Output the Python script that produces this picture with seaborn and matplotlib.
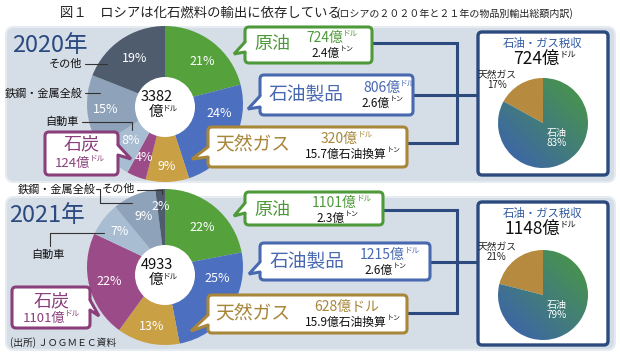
import numpy as np
import matplotlib
matplotlib.use('Agg')
import matplotlib.pyplot as plt
from matplotlib.patches import FancyBboxPatch, Circle, Polygon
from matplotlib.colors import LinearSegmentedColormap
import seaborn as sns

# ---------------- data ----------------
categories = ['原油', '石油製品', '天然ガス', '石炭', '自動車', '鉄鋼・金属全般', 'その他']
share_2020 = [21, 24, 9, 4, 8, 15, 19]
share_2021 = [22, 25, 13, 22, 7, 9, 2]
totals = [3382, 4933]
years = ['2020年', '2021年']
crude_usd = [724, 1101]
crude_ton = ['2.4', '2.3']
products_usd = [806, 1215]
products_ton = ['2.6', '2.6']
gas_usd = [320, 628]
gas_toe = ['15.7', '15.9']
coal_usd = [124, 1101]
tax_labels = ['石油', '天然ガス']
tax_2020 = [83, 17]
tax_2021 = [79, 21]
tax_totals = [724, 1148]

# ---------------- style ----------------
sns.set_style('white')
plt.rcParams['font.family'] = ['Noto Sans CJK JP', 'DejaVu Sans']

pal = sns.color_palette(['#55a23c', '#4c6fbf', '#c9a043', '#9a4b88',
                         '#a9bdd2', '#8ea2b9', '#4f5c6d'])
GREEN, BLUE, GOLD, PURPLE = '#4e9a3a', '#4868b0', '#a8863a', '#8a3f7b'
NAVY = '#2c4a7d'
PANEL = '#d5dde7'
# where along each wedge (fraction of its sweep) the percent label sits
label_sweep = [[0.55, 0.28, 0.5, 0.5, 0.5, 0.5, 0.5],
               [0.55, 0.26, 0.5, 0.5, 0.5, 0.5, 0.5]]
label_radius = [[0.72, 0.70, 0.80, 0.74, 0.64, 0.76, 0.70],
                [0.70, 0.68, 0.78, 0.74, 0.74, 0.70, 0.78]]

fig = plt.figure(figsize=(6.2, 3.57), dpi=100)
ax = fig.add_axes([0, 0, 1, 1])


def sup(x, y, main, small, size, color, ssize=5.5, dy=4):
    ax.text(x, y, main, ha='right', va='center', fontsize=size, color=color, zorder=10)
    ax.text(x, y - dy, small, ha='left', va='center', fontsize=ssize, color=color, zorder=10)


def callout(x0, y0, w, h, ec, b1, tip, b2):
    ax.add_patch(FancyBboxPatch((x0, y0), w, h, boxstyle='round,pad=0,rounding_size=4',
                                fc='white', ec=ec, lw=2.2, zorder=6))
    inside = 3 if b1[0] <= x0 + 1 else -3
    ax.add_patch(Polygon([(b1[0] + inside, b1[1]), b1, tip, b2, (b2[0] + inside, b2[1])],
                         closed=True, fc='white', ec='none', zorder=7))
    ax.plot([b1[0], tip[0], b2[0]], [b1[1], tip[1], b2[1]], color=ec, lw=2.2,
            solid_joinstyle='miter', zorder=7)


# title
ax.text(60, 13, '図１　ロシアは化石燃料の輸出に依存している', fontsize=9.6,
        ha='left', va='center', color='#222222')
ax.text(336, 14, '(ロシアの２０２０年と２１年の物品別輸出総額内訳)', fontsize=7.2,
        ha='left', va='center', color='#222222')

layouts = [
    dict(panel=(6, 27, 609, 155), center=(165, 104), hole=(165, 107), year_xy=(50, 45),
         crude=(245, 27, 127, 36, (245, 42), (234, 54), (245, 52)),
         prod=(260, 75, 153, 40, (260, 96), (248, 109), (260, 107)),
         gas=(208, 127, 199, 40, (208, 147), (192, 159), (208, 157)),
         coal=(45, 132, 73, 43, (118, 145), (131, 159), (118, 155)),
         lines_y=(43, 95, 143), right=(478, 32, 130, 143), tax_center=(543, 123)),
    dict(panel=(6, 197, 609, 153), center=(165, 267), hole=(165, 275), year_xy=(47, 215),
         crude=(245, 192, 138, 33, (245, 203), (234, 216), (245, 213)),
         prod=(260, 243, 170, 37, (260, 262), (249, 274), (260, 272)),
         gas=(208, 295, 199, 38, (208, 315), (191, 331), (208, 325)),
         coal=(12, 287, 78, 41, (90, 300), (99, 316), (90, 310)),
         lines_y=(210, 262, 313), right=(478, 202, 130, 143), tax_center=(543, 295)),
]
shares = [share_2020, share_2021]
taxes = [tax_2020, tax_2021]
R = 78

for i, L in enumerate(layouts):
    px, py, pw, ph = L['panel']
    ax.add_patch(FancyBboxPatch((px, py), pw, ph, boxstyle='round,pad=0,rounding_size=8',
                                fc=PANEL, ec='#e6ebf1', lw=1.5, zorder=1))
    ax.text(*L['year_xy'], years[i], fontsize=17, color='#2b4a80', ha='center',
            va='center', zorder=5)

    cx, cy = L['center']
    wedges, _ = ax.pie(shares[i], colors=pal, startangle=-90, counterclock=True,
                       center=(cx, cy), radius=R, wedgeprops=dict(lw=0), frame=True)
    for j, w in enumerate(wedges):
        w.set_zorder(3)
        ang = np.deg2rad(w.theta1 + label_sweep[i][j] * (w.theta2 - w.theta1))
        rr = label_radius[i][j] * R
        ax.text(cx + rr * np.cos(ang), cy + rr * np.sin(ang), f'{shares[i][j]}%',
                color='white', fontsize=9, ha='center', va='center', zorder=4)
    hx, hy = L['hole']
    ax.add_patch(Circle((hx, hy), 30, fc='white', ec='none', zorder=4))
    ax.text(hx - 8, hy - 10, f'{totals[i]}', fontsize=10.5, ha='center', va='center',
            color='#111111', zorder=5)
    sup(hx - 2, hy + 5, '億', 'ドル', 10.5, '#111111', ssize=5.5, dy=3)

    # connector lines
    ya, yb, yc = L['lines_y']
    rx = L['right'][0]
    c_end = L['crude'][0] + L['crude'][2]
    p_end = L['prod'][0] + L['prod'][2]
    g_end = L['gas'][0] + L['gas'][2]
    ax.plot([c_end, 457, 457, g_end], [ya, ya, yc, yc], color=NAVY, lw=2.2, zorder=2,
            solid_joinstyle='miter')
    ax.plot([p_end, rx], [yb, yb], color=NAVY, lw=2.2, zorder=2)

    # callouts
    callout(*L['crude'][:4], GREEN, *L['crude'][4:])
    callout(*L['prod'][:4], BLUE, *L['prod'][4:])
    callout(*L['gas'][:4], GOLD, *L['gas'][4:])
    callout(*L['coal'][:4], PURPLE, *L['coal'][4:])

    # right tax box
    rx, ry, rw, rh = L['right']
    ax.add_patch(FancyBboxPatch((rx, ry), rw, rh, boxstyle='round,pad=0,rounding_size=4',
                                fc='white', ec=NAVY, lw=2.4, zorder=6))
    tcx, tcy = L['tax_center']
    tw, _ = ax.pie(taxes[i], colors=['none', '#b78b3f'], startangle=-90, counterclock=True,
                   center=(tcx, tcy), radius=45, wedgeprops=dict(lw=0), frame=True)
    for w in tw:
        w.set_zorder(7)
    n = 120
    xs = np.linspace(tcx - 45, tcx + 45, n)
    ys = np.linspace(tcy - 45, tcy + 45, n)
    X, Y = np.meshgrid(xs, ys)
    T = ((X - tcx) - (Y - tcy)) / 180 + 0.5
    cmap = LinearSegmentedColormap.from_list('g', ['#3b5fb4', '#4a9a40'])
    im = ax.imshow(T, extent=(tcx - 45, tcx + 45, tcy + 45, tcy - 45), origin='upper',
                   cmap=cmap, vmin=0, vmax=1, zorder=7, interpolation='bilinear')
    im.set_clip_path(tw[0])
    ax.text(tcx, ry + 11, '石油・ガス税収', fontsize=8.2, color='#2e5aa0', ha='center',
            va='center', zorder=10)
    sup(tcx + 17, ry + 27, f'{tax_totals[i]}億', 'ドル', 12.5, '#111111', ssize=6, dy=5)
    ax.text(497, tcy - 48, tax_labels[1], fontsize=7, color='#222222', ha='center',
            va='center', zorder=10)
    ax.text(497, tcy - 38, f'{taxes[i][1]}%', fontsize=7, color='#222222', ha='center',
            va='center', zorder=10)
    ax.text(tcx + 14, tcy + 10, tax_labels[0], fontsize=7.2, color='white', ha='center',
            va='center', zorder=10)
    ax.text(tcx + 14, tcy + 20, f'{taxes[i][0]}%', fontsize=7.2, color='white', ha='center',
            va='center', zorder=10)

# ---- box texts 2020 ----
ax.text(272, 44, categories[0], fontsize=13, color=GREEN, ha='center', va='center', zorder=10)
sup(343, 38, f'{crude_usd[0]}億', 'ドル', 10, GREEN)
sup(340, 53, f'{crude_ton[0]}億', 'トン', 8.5, '#111111', ssize=5)
ax.text(306, 95, categories[1], fontsize=13.5, color=BLUE, ha='center', va='center', zorder=10)
sup(400, 88, f'{products_usd[0]}億', 'ドル', 10, BLUE)
sup(390, 103, f'{products_ton[0]}億', 'トン', 8.5, '#111111', ssize=5)
ax.text(253, 144, categories[2], fontsize=13.5, color=GOLD, ha='center', va='center', zorder=10)
sup(358, 139, f'{gas_usd[0]}億', 'ドル', 10, GOLD)
sup(387, 154, f'{gas_toe[0]}億石油換算', 'トン', 8.5, '#111111', ssize=5)
ax.text(82, 144, categories[3], fontsize=13, color=PURPLE, ha='center', va='center', zorder=10)
sup(90, 163, f'{coal_usd[0]}億', 'ドル', 9.5, PURPLE)

# ---- box texts 2021 ----
ax.text(272, 210, categories[0], fontsize=13, color=GREEN, ha='center', va='center', zorder=10)
sup(357, 203, f'{crude_usd[1]}億', 'ドル', 10, GREEN)
sup(345, 218, f'{crude_ton[1]}億', 'トン', 8.5, '#111111', ssize=5)
ax.text(307, 262, categories[1], fontsize=13.5, color=BLUE, ha='center', va='center', zorder=10)
sup(405, 255, f'{products_usd[1]}億', 'ドル', 10, BLUE)
sup(393, 270, f'{products_ton[1]}億', 'トン', 8.5, '#111111', ssize=5)
ax.text(253, 313, categories[2], fontsize=13.5, color=GOLD, ha='center', va='center', zorder=10)
ax.text(347, 307, f'{gas_usd[1]}億ドル', fontsize=10, color=GOLD, ha='center', va='center',
        zorder=10)
sup(387, 322, f'{gas_toe[1]}億石油換算', 'トン', 8.5, '#111111', ssize=5)
ax.text(52, 301, categories[3], fontsize=13, color=PURPLE, ha='center', va='center', zorder=10)
sup(65, 318, f'{coal_usd[1]}億', 'ドル', 9.5, PURPLE)

# ---- leader labels ----
lab = dict(fontsize=8, color='#111111', va='center', zorder=10)
lc = dict(color='#333333', lw=0.8, zorder=5)
ax.text(82, 64, categories[6], ha='right', **lab)
ax.plot([85, 107], [64, 64], **lc)
ax.text(83, 93, categories[5], ha='right', **lab)
ax.plot([85, 100], [93, 93], **lc)
ax.text(79, 122, categories[4], ha='right', **lab)
ax.plot([82, 132, 132], [122, 122, 130], **lc)

ax.text(96, 189, categories[5], ha='right', **lab)
ax.plot([96, 100, 100, 132], [189, 189, 203, 203], **lc)
ax.text(102, 189, categories[6], ha='left', **lab)
ax.plot([137, 162, 162], [190, 190, 194], **lc)
ax.text(48, 255, categories[4], ha='center', **lab)
ax.plot([50, 50, 104], [246, 233, 233], **lc)

ax.text(10, 343, '(出所) ＪＯＧＭＥＣ資料', fontsize=7, color='#222222', ha='left',
        va='center', zorder=10)

ax.set_aspect('auto')
ax.set_xlim(0, 620)
ax.set_ylim(357, 0)
ax.axis('off')
fig.savefig('out.png', dpi=100, facecolor='white')
